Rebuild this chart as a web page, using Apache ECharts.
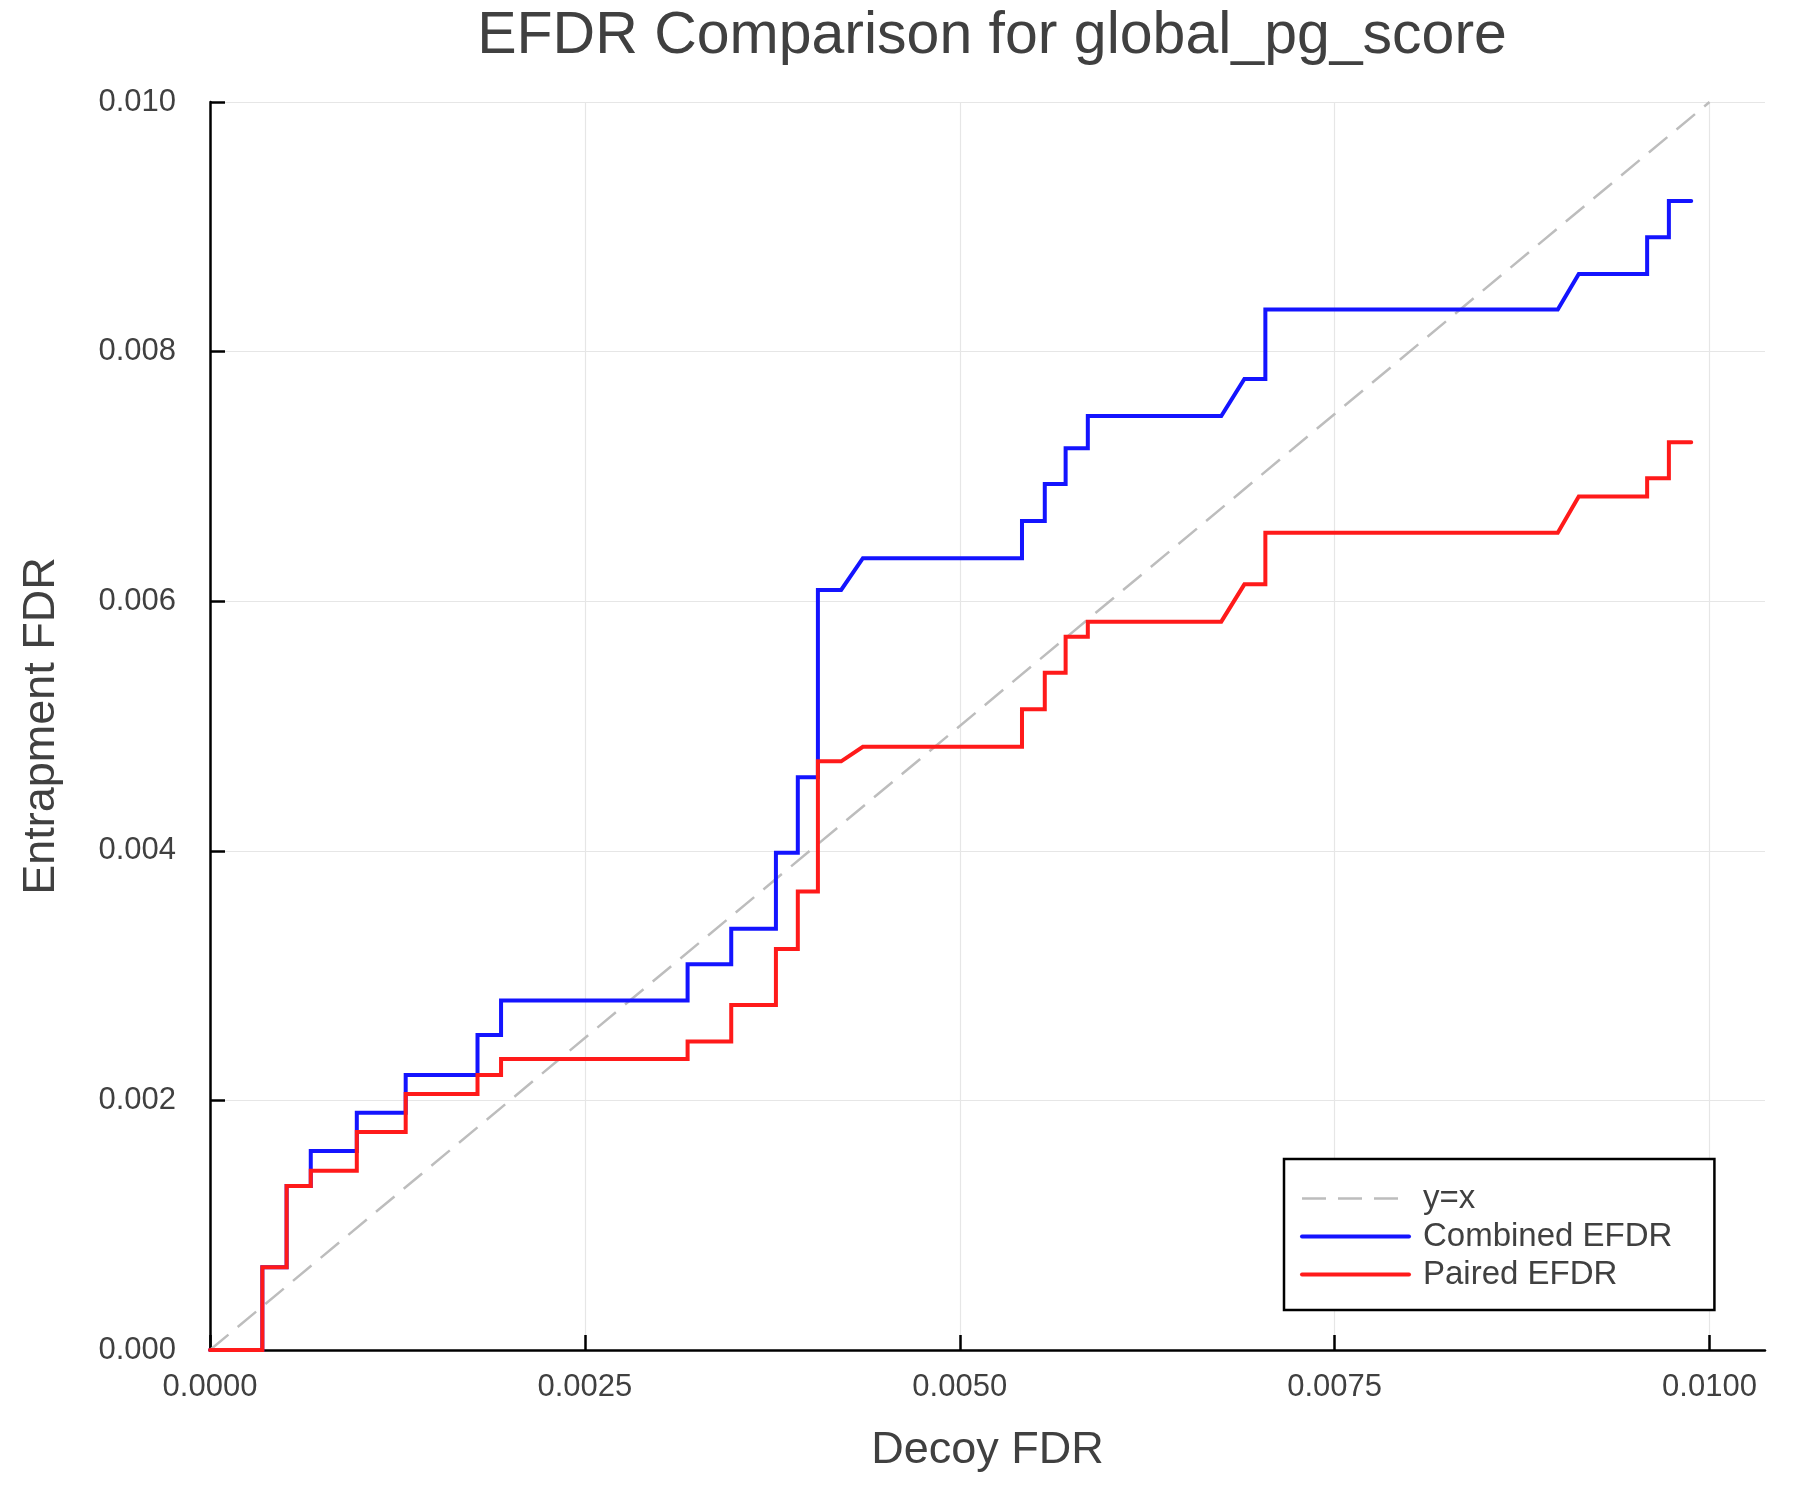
<!DOCTYPE html>
<html>
<head>
<meta charset="utf-8">
<script src="https://cdn.jsdelivr.net/npm/echarts@6/dist/echarts.min.js"></script>
<style>html,body{margin:0;padding:0;background:#fff}#c{width:1800px;height:1500px}</style>
</head>
<body>
<div id="c"></div>
<script>
var titleText = 'EFDR Comparison for global_pg_score';
var xTicks = [0, 0.0025, 0.005, 0.0075, 0.01];
var yTicks = [0, 0.002, 0.004, 0.006, 0.008, 0.01];
var diagX = [0, 0.01];
var diagY = [0, 0.01];
var combinedX = [0, 0.000349, 0.000349, 0.000511, 0.000511, 0.000672, 0.000672, 0.000979, 0.000979, 0.001305, 0.001305, 0.001784, 0.001784, 0.001941, 0.001941, 0.003185, 0.003185, 0.003476, 0.003476, 0.003774, 0.003774, 0.003920, 0.003920, 0.004054, 0.004054, 0.004209, 0.004354, 0.005415, 0.005415, 0.005567, 0.005567, 0.005706, 0.005706, 0.005854, 0.005854, 0.006744, 0.006898, 0.007038, 0.007038, 0.008988, 0.009128, 0.009584, 0.009584, 0.009729, 0.009729, 0.009878];
var combinedY = [0, 0, 0.000663, 0.000663, 0.001314, 0.001314, 0.001595, 0.001595, 0.001902, 0.001902, 0.002204, 0.002204, 0.002524, 0.002524, 0.002800, 0.002800, 0.003090, 0.003090, 0.003376, 0.003376, 0.003985, 0.003985, 0.004590, 0.004590, 0.006090, 0.006090, 0.006345, 0.006345, 0.006643, 0.006643, 0.006939, 0.006939, 0.007225, 0.007225, 0.007484, 0.007484, 0.007780, 0.007780, 0.008337, 0.008337, 0.008622, 0.008622, 0.008916, 0.008916, 0.009207, 0.009207];
var pairedX = [0, 0.000349, 0.000349, 0.000511, 0.000511, 0.000672, 0.000672, 0.000979, 0.000979, 0.001305, 0.001305, 0.001784, 0.001784, 0.001941, 0.001941, 0.003185, 0.003185, 0.003476, 0.003476, 0.003774, 0.003774, 0.003920, 0.003920, 0.004054, 0.004054, 0.004209, 0.004354, 0.005415, 0.005415, 0.005567, 0.005567, 0.005706, 0.005706, 0.005854, 0.005854, 0.006744, 0.006898, 0.007038, 0.007038, 0.008988, 0.009128, 0.009584, 0.009584, 0.009729, 0.009729, 0.009878];
var pairedY = [0, 0, 0.000663, 0.000663, 0.001314, 0.001314, 0.001437, 0.001437, 0.001747, 0.001747, 0.002051, 0.002051, 0.002204, 0.002204, 0.002332, 0.002332, 0.002471, 0.002471, 0.002764, 0.002764, 0.003213, 0.003213, 0.003673, 0.003673, 0.004717, 0.004717, 0.004834, 0.004834, 0.005134, 0.005134, 0.005427, 0.005427, 0.005716, 0.005716, 0.005836, 0.005836, 0.006135, 0.006135, 0.006549, 0.006549, 0.006838, 0.006838, 0.006985, 0.006985, 0.007273, 0.007273];
var seriesNames = ['y=x', 'Combined EFDR', 'Paired EFDR'];

function zip(xs, ys) { return xs.map(function (x, i) { return [x, ys[i]]; }); }

var FONT = '"Liberation Sans", Arial, Helvetica, sans-serif';
var TXT = '#404040';
var DIAG = '#bdbdbd', BLUE = '#1414ff', RED = '#ff1a1a';
var chart = echarts.init(document.getElementById('c'), null, { renderer: 'canvas' });
chart.setOption({
  backgroundColor: '#ffffff',
  animation: false,
  title: {
    text: titleText, left: 987, top: 2, textAlign: 'center',
    textStyle: { fontFamily: FONT, fontSize: 59, fontWeight: 'normal', color: TXT }
  },
  grid: { left: 210, right: 35, top: 102, bottom: 150, containLabel: false },
  legend: {
    show: true,
    orient: 'vertical', left: 1284, top: 1159,
    data: [
      { name: seriesNames[0], itemStyle: { opacity: 0 }, lineStyle: { color: DIAG, width: 2.5, type: [24, 12] } },
      { name: seriesNames[1], itemStyle: { opacity: 0 }, lineStyle: { color: BLUE, width: 4 } },
      { name: seriesNames[2], itemStyle: { opacity: 0 }, lineStyle: { color: RED, width: 4 } }
    ],
    itemWidth: 107, itemHeight: 14, itemGap: 1,
    padding: [21, 42, 17, 16],
    borderColor: '#000', borderWidth: 2.5, borderRadius: 0,
    backgroundColor: '#fff',
    textStyle: { fontFamily: FONT, fontSize: 33, color: TXT, lineHeight: 37, padding: [0, 0, 0, 9] }
  },
  xAxis: {
    type: 'value', min: 0, max: 0.01037,
    name: 'Decoy FDR', nameLocation: 'middle', nameGap: 78,
    nameTextStyle: { fontFamily: FONT, fontSize: 45, color: TXT },
    axisLine: { show: true, onZero: false, lineStyle: { color: '#000', width: 2.5 } },
    axisTick: { show: true, inside: true, length: 15, lineStyle: { color: '#000', width: 2.5 }, customValues: xTicks },
    axisLabel: { customValues: xTicks, margin: 22, fontFamily: FONT, fontSize: 31, color: TXT,
      formatter: function (v) { return v.toFixed(4); } },
    splitLine: { show: true, lineStyle: { color: '#e6e6e6', width: 1.2 } }
  },
  yAxis: {
    type: 'value', min: 0, max: 0.01, interval: 0.002,
    name: 'Entrapment FDR', nameLocation: 'middle', nameGap: 146, nameRotate: 90,
    nameTextStyle: { fontFamily: FONT, fontSize: 45, color: TXT },
    axisLine: { show: true, onZero: false, lineStyle: { color: '#000', width: 2.5 } },
    axisTick: { show: true, inside: true, length: 15, lineStyle: { color: '#000', width: 2.5 } },
    axisLabel: { margin: 34, fontFamily: FONT, fontSize: 31, color: TXT,
      formatter: function (v) { return v.toFixed(3); } },
    splitLine: { show: true, lineStyle: { color: '#e6e6e6', width: 1.2 } }
  },
  series: [
    { name: seriesNames[0], type: 'line', data: zip(diagX, diagY), showSymbol: false, symbol: 'none',
      lineStyle: { color: DIAG, width: 2.5, type: [24, 12] }, itemStyle: { color: DIAG }, z: 2 },
    { name: seriesNames[1], type: 'line', data: zip(combinedX, combinedY), showSymbol: false, symbol: 'none',
      lineStyle: { color: BLUE, width: 4, join: 'miter', cap: 'round' }, itemStyle: { color: BLUE }, z: 3 },
    { name: seriesNames[2], type: 'line', data: zip(pairedX, pairedY), showSymbol: false, symbol: 'none',
      lineStyle: { color: RED, width: 4, join: 'miter', cap: 'round' }, itemStyle: { color: RED }, z: 4 }
  ]
});
</script>
</body>
</html>
